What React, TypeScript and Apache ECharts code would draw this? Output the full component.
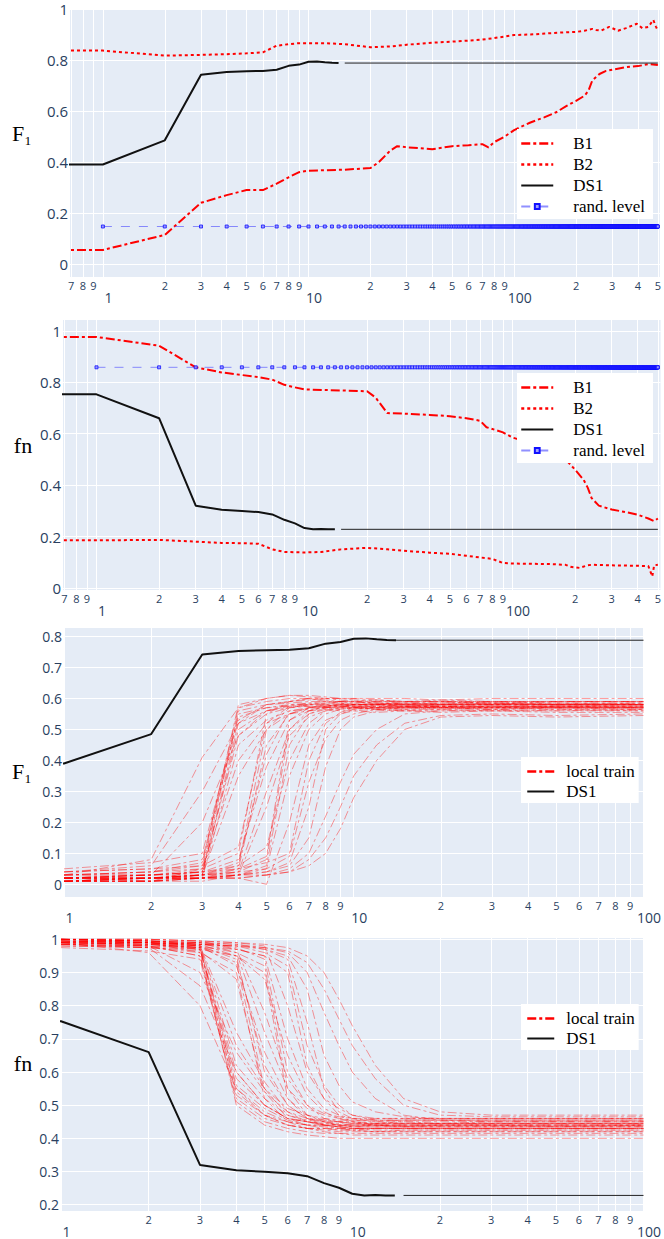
import React, { useEffect, useRef } from 'react';
import * as echarts from 'echarts';

// ---------- tick values ----------
const X_MINOR_WIDE = [0.7, 0.8, 0.9, 1, 2, 3, 4, 5, 6, 7, 8, 9, 10, 20, 30, 40, 50, 60, 70, 80, 90, 100, 200, 300, 400, 500];
const X_MINOR_NARROW = [1, 2, 3, 4, 5, 6, 7, 8, 9, 10, 20, 30, 40, 50, 60, 70, 80, 90, 100];
const X_MAJOR = [1, 10, 100];
const Y_TICKS_TOP = [0, 0.2, 0.4, 0.6, 0.8, 1];
const Y_TICKS_F1_LOCAL = [0, 0.1, 0.2, 0.3, 0.4, 0.5, 0.6, 0.7, 0.8];
const Y_TICKS_FN_LOCAL = [0.2, 0.3, 0.4, 0.5, 0.6, 0.7, 0.8, 0.9, 1];

// ---------- panel 1 (F1) ----------
const B1_F1_X = [0.5, 1, 2, 3, 4, 5, 6, 7, 8, 9, 10, 15, 20, 22, 25, 27, 30, 40, 50, 60, 70, 75, 80, 90, 100, 120, 140, 160, 180, 200, 220, 230, 240, 260, 280, 300, 350, 400, 450, 500];
const B1_F1 = [0.055, 0.055, 0.114, 0.24, 0.27, 0.29, 0.29, 0.315, 0.34, 0.36, 0.366, 0.37, 0.376, 0.40, 0.445, 0.462, 0.458, 0.45, 0.462, 0.466, 0.47, 0.457, 0.478, 0.50, 0.525, 0.555, 0.575, 0.595, 0.62, 0.64, 0.66, 0.68, 0.72, 0.745, 0.757, 0.762, 0.772, 0.776, 0.784, 0.78];
const B2_F1_X = [0.5, 1, 2, 3, 4, 5, 6, 7, 8, 9, 10, 12, 15, 20, 25, 30, 40, 50, 60, 70, 80, 90, 100, 120, 150, 180, 200, 220, 240, 250, 265, 290, 320, 350, 395, 420, 450, 475, 490, 500];
const B2_F1 = [0.837, 0.837, 0.817, 0.82, 0.823, 0.826, 0.83, 0.856, 0.862, 0.866, 0.866, 0.866, 0.862, 0.85, 0.853, 0.86, 0.868, 0.872, 0.876, 0.88, 0.886, 0.892, 0.898, 0.9, 0.905, 0.909, 0.91, 0.915, 0.922, 0.918, 0.915, 0.93, 0.915, 0.925, 0.942, 0.925, 0.93, 0.957, 0.93, 0.915];
const DS1_X = [0.5, 1, 2, 3, 4, 5, 6, 7, 8, 9, 10, 11, 12, 13, 14];
const DS1_F1 = [0.39, 0.39, 0.485, 0.742, 0.753, 0.756, 0.757, 0.762, 0.777, 0.782, 0.793, 0.794, 0.791, 0.789, 0.788];
const DS1_EXT_F1 = 0.788;
const RAND_LEVEL_F1 = 0.147;
const RAND_X = Array.from({ length: 500 }, (_, i) => i + 1);

// ---------- panel 2 (fn) ----------
const B1_FN_X = [0.5, 1, 2, 3, 4, 5, 6, 7, 8, 9, 10, 15, 20, 22, 25, 30, 40, 50, 60, 70, 75, 80, 90, 100, 110, 120, 150, 180, 200, 220, 230, 240, 260, 300, 350, 400, 450, 480, 500];
const B1_FN = [0.976, 0.976, 0.942, 0.858, 0.838, 0.828, 0.82, 0.81, 0.79, 0.78, 0.772, 0.768, 0.765, 0.74, 0.68, 0.678, 0.673, 0.668, 0.66, 0.65, 0.625, 0.618, 0.605, 0.585, 0.575, 0.56, 0.53, 0.50, 0.46, 0.42, 0.39, 0.35, 0.32, 0.305, 0.295, 0.285, 0.27, 0.26, 0.27];
const B2_FN_X = [0.5, 1, 2, 3, 4, 5, 6, 7, 8, 10, 12, 15, 20, 25, 30, 40, 50, 60, 80, 90, 100, 120, 150, 180, 190, 210, 230, 240, 300, 400, 450, 470, 480, 500];
const B2_FN = [0.185, 0.185, 0.187, 0.18, 0.175, 0.174, 0.172, 0.15, 0.14, 0.138, 0.14, 0.15, 0.156, 0.15, 0.145, 0.137, 0.133, 0.125, 0.113, 0.097, 0.095, 0.094, 0.093, 0.09, 0.082, 0.078, 0.088, 0.09, 0.088, 0.086, 0.085, 0.045, 0.088, 0.09];
const DS1_FN = [0.753, 0.753, 0.66, 0.32, 0.304, 0.299, 0.295, 0.286, 0.265, 0.251, 0.233, 0.228, 0.229, 0.228, 0.228];
const DS1_EXT_FN = 0.228;
const RAND_LEVEL_FN = 0.858;

// ---------- panels 3 & 4: local train runs ----------
const LT_X = [1, 2, 3, 4, 5, 6, 7, 8, 9, 10, 12, 15, 20, 30, 50, 100];
const LOCAL_F1 = [
  [0.03, 0.08, 0.41, 0.57, 0.60, 0.61, 0.605, 0.60, 0.60, 0.60, 0.595, 0.59, 0.59, 0.585, 0.59, 0.59],
  [0.04, 0.06, 0.30, 0.52, 0.58, 0.59, 0.60, 0.595, 0.59, 0.59, 0.585, 0.58, 0.58, 0.585, 0.58, 0.58],
  [0.02, 0.03, 0.20, 0.48, 0.56, 0.58, 0.58, 0.575, 0.58, 0.575, 0.57, 0.575, 0.57, 0.57, 0.575, 0.57],
  [0.02, 0.01, 0.05, 0.56, 0.58, 0.59, 0.595, 0.60, 0.60, 0.595, 0.59, 0.59, 0.595, 0.59, 0.59, 0.59],
  [0.01, 0.02, 0.04, 0.55, 0.57, 0.58, 0.585, 0.58, 0.58, 0.58, 0.58, 0.575, 0.58, 0.58, 0.58, 0.58],
  [0.03, 0.04, 0.06, 0.58, 0.60, 0.61, 0.61, 0.605, 0.60, 0.60, 0.60, 0.60, 0.595, 0.60, 0.60, 0.60],
  [0.02, 0.02, 0.03, 0.50, 0.56, 0.57, 0.575, 0.57, 0.575, 0.57, 0.57, 0.57, 0.575, 0.57, 0.57, 0.57],
  [0.01, 0.01, 0.02, 0.45, 0.53, 0.56, 0.565, 0.57, 0.57, 0.565, 0.57, 0.565, 0.565, 0.57, 0.565, 0.565],
  [0.04, 0.05, 0.08, 0.53, 0.58, 0.585, 0.59, 0.59, 0.585, 0.58, 0.58, 0.585, 0.58, 0.58, 0.585, 0.58],
  [0.02, 0.03, 0.05, 0.40, 0.52, 0.55, 0.56, 0.565, 0.56, 0.56, 0.555, 0.56, 0.555, 0.56, 0.555, 0.555],
  [0.05, 0.07, 0.10, 0.54, 0.57, 0.575, 0.58, 0.58, 0.575, 0.575, 0.58, 0.575, 0.575, 0.575, 0.575, 0.575],
  [0.01, 0.01, 0.03, 0.35, 0.50, 0.55, 0.57, 0.575, 0.58, 0.58, 0.58, 0.58, 0.585, 0.58, 0.58, 0.58],
  [0.03, 0.04, 0.07, 0.57, 0.59, 0.60, 0.60, 0.59, 0.59, 0.59, 0.59, 0.59, 0.59, 0.59, 0.59, 0.59],
  [0.02, 0.03, 0.04, 0.48, 0.55, 0.57, 0.58, 0.585, 0.585, 0.58, 0.585, 0.58, 0.58, 0.585, 0.58, 0.58],
  [0.01, 0.02, 0.03, 0.52, 0.56, 0.575, 0.575, 0.57, 0.57, 0.57, 0.565, 0.57, 0.57, 0.565, 0.57, 0.57],
  [0.02, 0.02, 0.03, 0.06, 0.50, 0.57, 0.58, 0.585, 0.59, 0.59, 0.585, 0.585, 0.59, 0.585, 0.585, 0.585],
  [0.01, 0.01, 0.02, 0.05, 0.45, 0.55, 0.57, 0.575, 0.575, 0.57, 0.575, 0.57, 0.57, 0.575, 0.57, 0.57],
  [0.03, 0.04, 0.05, 0.10, 0.55, 0.59, 0.60, 0.60, 0.595, 0.59, 0.595, 0.59, 0.59, 0.59, 0.59, 0.59],
  [0.02, 0.03, 0.04, 0.08, 0.38, 0.53, 0.56, 0.57, 0.575, 0.58, 0.58, 0.575, 0.58, 0.58, 0.575, 0.58],
  [0.01, 0.02, 0.02, 0.04, 0.30, 0.50, 0.55, 0.565, 0.57, 0.57, 0.565, 0.56, 0.565, 0.56, 0.56, 0.56],
  [0.04, 0.05, 0.06, 0.12, 0.52, 0.575, 0.585, 0.59, 0.59, 0.585, 0.585, 0.58, 0.585, 0.585, 0.58, 0.585],
  [0.02, 0.02, 0.03, 0.07, 0.42, 0.56, 0.57, 0.575, 0.58, 0.575, 0.575, 0.575, 0.575, 0.57, 0.575, 0.575],
  [0.01, 0.01, 0.01, 0.03, 0.25, 0.48, 0.54, 0.56, 0.565, 0.57, 0.57, 0.57, 0.57, 0.57, 0.57, 0.57],
  [0.02, 0.02, 0.03, 0.04, 0.08, 0.50, 0.56, 0.575, 0.58, 0.58, 0.58, 0.585, 0.58, 0.58, 0.58, 0.58],
  [0.01, 0.02, 0.02, 0.03, 0.06, 0.45, 0.55, 0.57, 0.575, 0.575, 0.57, 0.575, 0.575, 0.575, 0.57, 0.575],
  [0.03, 0.03, 0.04, 0.06, 0.12, 0.40, 0.52, 0.56, 0.57, 0.58, 0.58, 0.58, 0.575, 0.58, 0.58, 0.58],
  [0.02, 0.03, 0.03, 0.05, 0.09, 0.53, 0.57, 0.58, 0.585, 0.585, 0.59, 0.585, 0.585, 0.59, 0.585, 0.585],
  [0.01, 0.01, 0.02, 0.02, 0.00, 0.20, 0.45, 0.53, 0.55, 0.56, 0.565, 0.56, 0.56, 0.56, 0.565, 0.56],
  [0.02, 0.02, 0.03, 0.04, 0.05, 0.35, 0.50, 0.55, 0.565, 0.57, 0.575, 0.57, 0.57, 0.575, 0.57, 0.57],
  [0.02, 0.02, 0.02, 0.03, 0.05, 0.09, 0.33, 0.47, 0.53, 0.55, 0.565, 0.57, 0.575, 0.57, 0.575, 0.57],
  [0.01, 0.02, 0.02, 0.03, 0.04, 0.07, 0.25, 0.50, 0.55, 0.565, 0.57, 0.575, 0.57, 0.575, 0.575, 0.575],
  [0.03, 0.03, 0.04, 0.05, 0.07, 0.10, 0.40, 0.52, 0.555, 0.57, 0.58, 0.58, 0.58, 0.58, 0.58, 0.58],
  [0.02, 0.02, 0.03, 0.03, 0.04, 0.06, 0.15, 0.38, 0.50, 0.54, 0.56, 0.565, 0.57, 0.565, 0.57, 0.565],
  [0.01, 0.01, 0.02, 0.02, 0.03, 0.05, 0.10, 0.22, 0.33, 0.42, 0.50, 0.55, 0.56, 0.565, 0.56, 0.565],
  [0.02, 0.02, 0.02, 0.03, 0.03, 0.04, 0.08, 0.15, 0.25, 0.35, 0.45, 0.52, 0.545, 0.55, 0.545, 0.55],
  [0.01, 0.02, 0.02, 0.02, 0.03, 0.04, 0.06, 0.10, 0.18, 0.28, 0.40, 0.50, 0.54, 0.545, 0.54, 0.545],
];
const LOCAL_FN = [
  [0.99, 0.96, 0.80, 0.55, 0.47, 0.45, 0.44, 0.44, 0.435, 0.43, 0.43, 0.43, 0.43, 0.43, 0.43, 0.43],
  [0.985, 0.975, 0.86, 0.60, 0.50, 0.46, 0.45, 0.445, 0.44, 0.44, 0.44, 0.435, 0.44, 0.44, 0.435, 0.44],
  [0.995, 0.98, 0.90, 0.66, 0.54, 0.48, 0.46, 0.455, 0.45, 0.45, 0.445, 0.45, 0.445, 0.45, 0.45, 0.45],
  [1.0, 0.99, 0.97, 0.53, 0.47, 0.44, 0.43, 0.425, 0.42, 0.42, 0.42, 0.42, 0.42, 0.42, 0.42, 0.42],
  [0.99, 0.985, 0.975, 0.55, 0.48, 0.45, 0.44, 0.435, 0.43, 0.43, 0.43, 0.43, 0.43, 0.43, 0.43, 0.43],
  [0.995, 0.99, 0.96, 0.50, 0.44, 0.42, 0.41, 0.405, 0.40, 0.40, 0.40, 0.40, 0.40, 0.40, 0.40, 0.40],
  [0.98, 0.975, 0.97, 0.58, 0.50, 0.46, 0.45, 0.445, 0.44, 0.44, 0.44, 0.44, 0.44, 0.44, 0.44, 0.44],
  [1.0, 0.995, 0.985, 0.62, 0.52, 0.47, 0.455, 0.45, 0.45, 0.445, 0.445, 0.445, 0.445, 0.445, 0.445, 0.445],
  [0.99, 0.98, 0.95, 0.54, 0.47, 0.44, 0.43, 0.43, 0.425, 0.425, 0.42, 0.425, 0.425, 0.425, 0.425, 0.425],
  [0.995, 0.99, 0.975, 0.68, 0.55, 0.49, 0.47, 0.46, 0.455, 0.455, 0.45, 0.455, 0.455, 0.455, 0.455, 0.455],
  [0.975, 0.965, 0.94, 0.52, 0.46, 0.44, 0.43, 0.43, 0.43, 0.425, 0.43, 0.43, 0.43, 0.43, 0.43, 0.43],
  [1.0, 0.995, 0.98, 0.72, 0.57, 0.48, 0.45, 0.44, 0.435, 0.43, 0.43, 0.43, 0.43, 0.43, 0.43, 0.43],
  [0.985, 0.98, 0.95, 0.51, 0.45, 0.43, 0.42, 0.415, 0.415, 0.41, 0.41, 0.41, 0.41, 0.41, 0.41, 0.41],
  [0.99, 0.985, 0.97, 0.60, 0.50, 0.46, 0.45, 0.44, 0.435, 0.435, 0.435, 0.435, 0.435, 0.435, 0.435, 0.435],
  [1.0, 0.99, 0.98, 0.56, 0.49, 0.455, 0.44, 0.44, 0.44, 0.435, 0.44, 0.44, 0.44, 0.44, 0.44, 0.44],
  [0.99, 0.985, 0.975, 0.93, 0.55, 0.47, 0.45, 0.44, 0.435, 0.43, 0.43, 0.43, 0.43, 0.43, 0.43, 0.43],
  [1.0, 0.995, 0.985, 0.95, 0.60, 0.50, 0.46, 0.45, 0.445, 0.44, 0.44, 0.44, 0.44, 0.44, 0.44, 0.44],
  [0.98, 0.975, 0.96, 0.90, 0.52, 0.45, 0.43, 0.42, 0.415, 0.415, 0.415, 0.415, 0.415, 0.415, 0.415, 0.415],
  [0.995, 0.99, 0.98, 0.92, 0.66, 0.52, 0.47, 0.455, 0.45, 0.445, 0.445, 0.445, 0.445, 0.445, 0.445, 0.445],
  [1.0, 0.995, 0.99, 0.96, 0.72, 0.55, 0.49, 0.47, 0.46, 0.455, 0.455, 0.455, 0.455, 0.455, 0.455, 0.455],
  [0.985, 0.975, 0.965, 0.88, 0.54, 0.46, 0.44, 0.43, 0.425, 0.425, 0.42, 0.42, 0.42, 0.42, 0.42, 0.42],
  [0.995, 0.99, 0.98, 0.94, 0.62, 0.50, 0.46, 0.45, 0.44, 0.44, 0.44, 0.44, 0.44, 0.44, 0.44, 0.44],
  [1.0, 1.0, 0.995, 0.97, 0.78, 0.58, 0.50, 0.475, 0.465, 0.46, 0.46, 0.46, 0.46, 0.46, 0.46, 0.46],
  [0.99, 0.985, 0.98, 0.96, 0.92, 0.55, 0.47, 0.45, 0.44, 0.435, 0.435, 0.435, 0.435, 0.435, 0.435, 0.435],
  [1.0, 0.995, 0.99, 0.975, 0.94, 0.60, 0.50, 0.46, 0.45, 0.445, 0.44, 0.44, 0.44, 0.44, 0.44, 0.44],
  [0.99, 0.985, 0.975, 0.95, 0.88, 0.65, 0.53, 0.48, 0.46, 0.45, 0.445, 0.445, 0.445, 0.445, 0.445, 0.445],
  [0.985, 0.98, 0.97, 0.95, 0.90, 0.52, 0.46, 0.44, 0.43, 0.43, 0.425, 0.425, 0.425, 0.425, 0.425, 0.425],
  [1.0, 1.0, 0.995, 0.99, 0.98, 0.80, 0.60, 0.52, 0.49, 0.47, 0.46, 0.46, 0.46, 0.46, 0.46, 0.46],
  [0.995, 0.99, 0.985, 0.97, 0.95, 0.70, 0.55, 0.49, 0.47, 0.46, 0.455, 0.455, 0.455, 0.455, 0.455, 0.455],
  [0.99, 0.99, 0.985, 0.98, 0.96, 0.92, 0.68, 0.56, 0.50, 0.47, 0.455, 0.45, 0.45, 0.45, 0.45, 0.45],
  [1.0, 0.995, 0.99, 0.985, 0.97, 0.94, 0.75, 0.55, 0.48, 0.46, 0.45, 0.445, 0.445, 0.445, 0.445, 0.445],
  [0.985, 0.98, 0.975, 0.97, 0.95, 0.90, 0.62, 0.52, 0.47, 0.45, 0.44, 0.435, 0.435, 0.435, 0.435, 0.435],
  [0.995, 0.99, 0.985, 0.98, 0.97, 0.95, 0.85, 0.65, 0.56, 0.51, 0.48, 0.465, 0.46, 0.46, 0.46, 0.46],
  [1.0, 0.995, 0.99, 0.985, 0.975, 0.96, 0.90, 0.78, 0.68, 0.60, 0.52, 0.47, 0.455, 0.45, 0.45, 0.45],
  [0.99, 0.99, 0.985, 0.98, 0.975, 0.965, 0.93, 0.85, 0.76, 0.68, 0.58, 0.50, 0.47, 0.465, 0.465, 0.465],
  [1.0, 1.0, 0.995, 0.99, 0.985, 0.975, 0.95, 0.90, 0.82, 0.74, 0.62, 0.52, 0.48, 0.47, 0.47, 0.47],
];

// ---------- helpers ----------
const lg = (v: number) => Math.log10(v);
const pts = (xs: number[], ys: number[]) => xs.map((x, i) => [lg(x), ys[i]]);
const flat = (xs: number[], y: number) => xs.map((x) => [lg(x), y]);

const TICK_COLOR = '#2a3f5f';
const SERIF = '"Liberation Serif", "DejaVu Serif", serif';
const SANS = '"Open Sans", "Noto Sans", sans-serif';

const RED = '#ff0000';
const DASHDOT = [9, 3, 3, 3];

// minor axis: gridlines at every tick, digit labels (no label at decades)
const minorFmt = (value: number) => {
  const p = Math.floor(value + 1e-9);
  const v = Math.pow(10, value);
  const d = Math.round(v / Math.pow(10, p));
  return d === 1 ? '' : String(d);
};
const majorFmt = (value: number) => String(Math.round(Math.pow(10, value)));

const xMinorAxis = (gi: number, min: number, max: number, ticks: number[]) => ({
  type: 'value',
  gridIndex: gi,
  min,
  max,
  axisLine: { show: false },
  axisTick: { show: false, customValues: ticks.map(lg) },
  splitLine: { show: true, lineStyle: { color: '#ffffff', width: 1 } },
  axisLabel: {
    customValues: ticks.filter((t) => X_MAJOR.indexOf(t) < 0).map(lg),
    formatter: minorFmt,
    margin: 3,
    fontSize: 11,
    lineHeight: 11,
    color: TICK_COLOR,
    fontFamily: SANS,
  },
});

const xMajorAxis = (gi: number, min: number, max: number) => ({
  type: 'value',
  gridIndex: gi,
  position: 'bottom',
  min,
  max,
  axisLine: { show: false },
  axisTick: { show: false, customValues: X_MAJOR.map(lg) },
  splitLine: { show: false },
  axisLabel: {
    customValues: X_MAJOR.map(lg),
    formatter: majorFmt,
    margin: 13,
    fontSize: 14,
    lineHeight: 14,
    padding: [0, 0, 0, 11],
    color: TICK_COLOR,
    fontFamily: SANS,
  },
});

const yAxis = (gi: number, min: number, max: number, ticks: number[], fs: number) => ({
  type: 'value',
  gridIndex: gi,
  min,
  max,
  axisLine: { show: false },
  axisTick: { show: false, customValues: ticks },
  splitLine: { show: true, lineStyle: { color: '#ffffff', width: 1 } },
  axisLabel: {
    customValues: ticks,
    formatter: (v: number) => String(Math.round(v * 10) / 10),
    margin: 2,
    fontSize: fs,
    color: TICK_COLOR,
    fontFamily: SANS,
  },
});

const line = (name: string, gi: number, data: number[][], lineStyle: any, extra: any = {}) => ({
  type: 'line',
  name,
  xAxisIndex: gi,
  yAxisIndex: gi,
  data,
  symbol: 'none',
  showSymbol: false,
  silent: true,
  clip: true,
  lineStyle,
  ...extra,
});

const randSeries = (gi: number, y: number) =>
  line('rand. level', gi, flat(RAND_X, y), { color: 'rgba(70,70,255,0.6)', width: 1, type: [9, 9] }, {
    symbol: 'rect',
    showSymbol: true,
    symbolSize: 3,
    itemStyle: { color: 'rgba(150,150,255,0.9)', borderColor: '#1010ff', borderWidth: 0.8 },
  });

function buildOption() {
  const series: any[] = [];
  // panel 1
  series.push(line('B1', 0, pts(B1_F1_X, B1_F1), { color: RED, width: 2, type: DASHDOT }));
  series.push(line('B2', 0, pts(B2_F1_X, B2_F1), { color: RED, width: 2, type: [3, 3] }));
  series.push(line('DS1', 0, pts(DS1_X, DS1_F1), { color: '#111', width: 2 }));
  series.push(line('DS1 ext', 0, flat([15, 500], DS1_EXT_F1), { color: '#222', width: 1 }));
  series.push(randSeries(0, RAND_LEVEL_F1));
  // panel 2
  series.push(line('B1', 1, pts(B1_FN_X, B1_FN), { color: RED, width: 2, type: DASHDOT }));
  series.push(line('B2', 1, pts(B2_FN_X, B2_FN), { color: RED, width: 2, type: [3, 3] }));
  series.push(line('DS1', 1, pts(DS1_X, DS1_FN), { color: '#111', width: 2 }));
  series.push(line('DS1 ext', 1, flat([15, 500], DS1_EXT_FN), { color: '#222', width: 1 }));
  series.push(randSeries(1, RAND_LEVEL_FN));
  // panel 3
  LOCAL_F1.forEach((row) =>
    series.push(line('local train', 2, pts(LT_X, row), { color: RED, width: 1, opacity: 0.4, type: DASHDOT }))
  );
  series.push(line('DS1', 2, pts(DS1_X, DS1_F1), { color: '#111', width: 2 }));
  series.push(line('DS1 ext', 2, flat([14, 100], DS1_EXT_F1), { color: '#222', width: 1 }));
  // panel 4
  LOCAL_FN.forEach((row) =>
    series.push(line('local train', 3, pts(LT_X, row), { color: RED, width: 1, opacity: 0.4, type: DASHDOT }))
  );
  series.push(line('DS1', 3, pts(DS1_X, DS1_FN), { color: '#111', width: 2 }));
  series.push(line('DS1 ext', 3, flat([15, 100], DS1_EXT_FN), { color: '#222', width: 1 }));

  const gridBase = { show: true, backgroundColor: '#E5ECF6', borderWidth: 0 };
  const legendBase = {
    orient: 'vertical',
    itemWidth: 32,
    itemHeight: 6,
    itemGap: 4,
    backgroundColor: '#ffffff',
    selectedMode: false,
    textStyle: { fontFamily: SERIF, fontSize: 17, color: '#000', padding: [0, 0, 0, 15] },
  };
  const noSym = { opacity: 0 };
  const topLegendData = [
    { name: 'B1', itemStyle: noSym, lineStyle: { width: 2.5 } },
    { name: 'B2', itemStyle: noSym, lineStyle: { width: 2.5 } },
    { name: 'DS1', itemStyle: noSym },
    { name: 'rand. level' },
  ];
  const localLegendData = [
    { name: 'local train', itemStyle: noSym, lineStyle: { width: 2.5, opacity: 1 } },
    { name: 'DS1', itemStyle: noSym },
  ];
  const localLegendBase = {
    ...legendBase,
    itemWidth: 27,
    itemGap: 3,
    textStyle: { fontFamily: SERIF, fontSize: 17, color: '#000', padding: [0, 0, 0, 7] },
  };

  const title = (text: string, x: number, y: number) => ({
    type: 'text',
    x,
    y,
    silent: true,
    style: { text, font: '22px ' + SERIF, fill: '#000', align: 'center', verticalAlign: 'middle' },
  });

  const XR = [
    [-0.16, 2.709],
    [-0.161, 2.712],
    [0, 2],
    [0, 2],
  ];

  return {
    animation: false,
    backgroundColor: '#ffffff',
    grid: [
      { ...gridBase, left: 70, top: 9, width: 591, height: 268 },
      { ...gridBase, left: 63, top: 320, width: 599, height: 270 },
      { ...gridBase, left: 64, top: 628, width: 591, height: 269 },
      { ...gridBase, left: 61, top: 938, width: 589, height: 273 },
    ],
    xAxis: [
      xMinorAxis(0, XR[0][0], XR[0][1], X_MINOR_WIDE),
      xMinorAxis(1, XR[1][0], XR[1][1], X_MINOR_WIDE),
      xMinorAxis(2, XR[2][0], XR[2][1], X_MINOR_NARROW),
      xMinorAxis(3, XR[3][0], XR[3][1], X_MINOR_NARROW),
      xMajorAxis(0, XR[0][0], XR[0][1]),
      xMajorAxis(1, XR[1][0], XR[1][1]),
      xMajorAxis(2, XR[2][0], XR[2][1]),
      xMajorAxis(3, XR[3][0], XR[3][1]),
    ],
    yAxis: [
      yAxis(0, -0.051, 1.0, Y_TICKS_TOP, 15),
      yAxis(1, -0.008, 1.042, Y_TICKS_TOP, 15),
      yAxis(2, -0.041, 0.8275, Y_TICKS_F1_LOCAL, 14),
      yAxis(3, 0.181, 1.004, Y_TICKS_FN_LOCAL, 14),
    ],
    legend: [
      { ...legendBase, left: 517, top: 129, padding: [6, 8, 4, 3], data: topLegendData },
      { ...legendBase, left: 517, top: 373, padding: [6, 8, 4, 3], data: topLegendData },
      { ...localLegendBase, left: 521, top: 757, padding: [6, 4, 3, 5], data: localLegendData },
      { ...localLegendBase, left: 521, top: 1004, padding: [6, 4, 3, 5], data: localLegendData },
    ],
    graphic: [
      title('F₁', 22, 133),
      title('fn', 23, 445),
      title('F₁', 22, 771),
      title('fn', 23, 1063),
    ],
    series,
  };
}

export default function App() {
  const ref = useRef<HTMLDivElement>(null);
  useEffect(() => {
    if (!ref.current) return;
    const chart = echarts.init(ref.current, undefined, { renderer: 'svg' });
    chart.setOption(buildOption() as any);
    return () => chart.dispose();
  }, []);
  return (
    <div
      ref={ref}
      style={{ position: 'absolute', left: 0, top: 0, width: 664, height: 1239, background: '#fff' }}
    />
  );
}
